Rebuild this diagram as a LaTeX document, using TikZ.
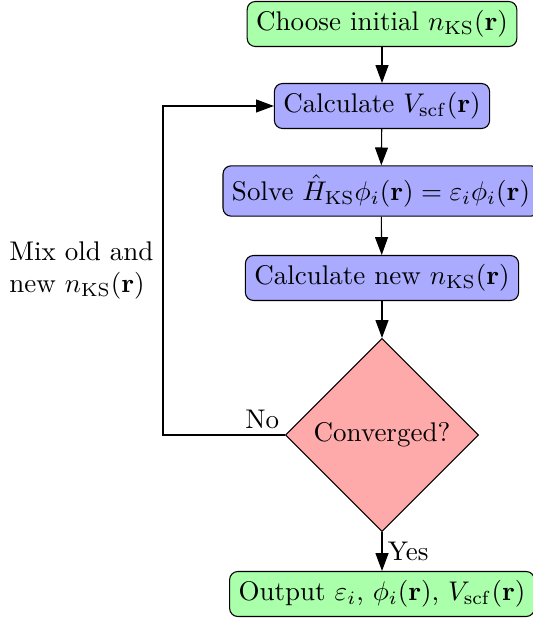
\documentclass[tikz,border=0pt]{standalone}
\usetikzlibrary{shapes.geometric,arrows.meta}
\definecolor{boxgreen}{RGB}{170,255,170}
\definecolor{boxblue}{RGB}{170,170,255}
\definecolor{boxred}{RGB}{255,170,170}
\begin{document}
\begin{tikzpicture}[x=0.3704pt,y=-0.3704pt,
  stepbox/.style={draw,rounded corners=3pt,inner sep=3.33pt},
  startbox/.style={stepbox,fill=boxgreen},
  workbox/.style={stepbox,fill=boxblue},
  testbox/.style={draw,diamond,aspect=1,fill=boxred,inner sep=0pt,
    minimum width=71.5pt,minimum height=71.5pt},
  flow/.style={-{Triangle[length=6.6pt,width=4.8pt]}}]
\useasboundingbox (0,0) rectangle (532,621);
\node[startbox] (init) at (382,24) {Choose initial $n_{\mathrm{KS}}(\mathbf{r})$};
\node[workbox] (vscf) at (382,106) {Calculate $V_{\mathrm{scf}}(\mathbf{r})$};
\node[workbox] (solve) at (381,191) {Solve $\hat{H}_{\mathrm{KS}}\phi_i(\mathbf{r})=\varepsilon_i\phi_i(\mathbf{r})$};
\node[workbox] (dens) at (382,278) {Calculate new $n_{\mathrm{KS}}(\mathbf{r})$};
\node[testbox] (conv) at (382,435) {Converged?};
\node[startbox] (out) at (382,594) {Output $\varepsilon_i$, $\phi_i(\mathbf{r})$, $V_{\mathrm{scf}}(\mathbf{r})$};
\coordinate (lowcorner) at (163,435);
\coordinate (highcorner) at (163,106);
\draw[flow] (init) -- (vscf);
\draw[flow] (vscf) -- (solve);
\draw[flow] (solve) -- (dens);
\draw[flow] (dens) -- (conv);
\draw[flow] (conv) -- node[right,inner sep=2pt] {Yes} (out);
\draw[flow] (conv.west) -- (lowcorner)
  -- node[left,align=left] {Mix old and\\new $n_{\mathrm{KS}}(\mathbf{r})$} (highcorner) -- (vscf.west);
\node[above left,inner sep=2pt] (nolabel) at (conv.west) {No};
\end{tikzpicture}
\end{document}
